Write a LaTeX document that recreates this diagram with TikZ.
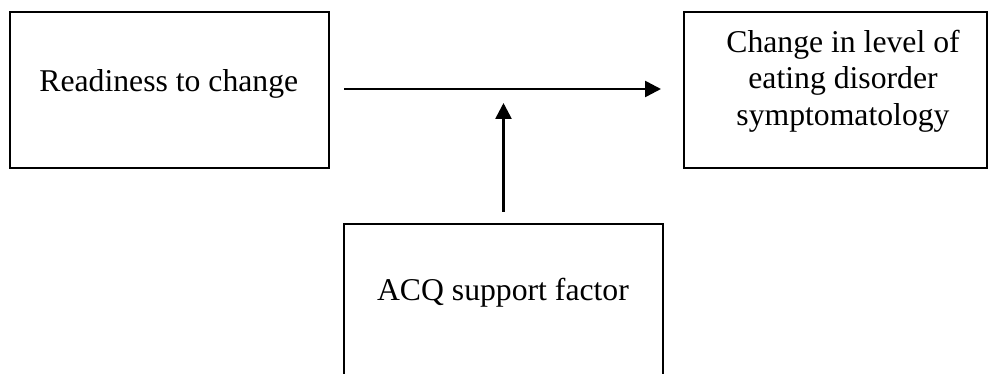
\documentclass[tikz,border=0pt]{standalone}
\usepackage{fontspec}
\setmainfont{Liberation Serif}
\usetikzlibrary{arrows.meta,calc}
\tikzset{
  box/.style={draw=black, line width=2pt, rectangle, inner sep=0pt},
  lbl/.style={font=\fontsize{31.7}{36.5}\selectfont, align=center, inner sep=0pt},
  arr/.style={line width=2.6pt, -{Triangle[length=16pt,width=16pt]}}
}
\begin{document}
\begin{tikzpicture}[x=1pt,y=-1pt]
\useasboundingbox (0,0) rectangle (988,374);
\node[box, minimum width=319pt, minimum height=156pt] (L) at (169.5,90) {};
\node[box, minimum width=303pt, minimum height=156pt] (R) at (835.5,90) {};
\node[box, minimum width=319pt, minimum height=176pt] (B) at (503.5,312) {};
\node[lbl, anchor=base] (Lt) at (168.8,92) {Readiness to change};
\node[lbl] (Rt) at (843,81) {Change in level of\\eating disorder\\symptomatology};
\node[lbl, anchor=base] (Bt) at (503,300.7) {ACQ support factor};
\coordinate (M) at (503.5,103);
\draw[arr, shorten <=14pt, shorten >=22pt] (L.east |- 0,89) -- (R.west |- 0,89);
\draw[arr, shorten <=11pt] (B.north) -- (M);
\end{tikzpicture}
\end{document}
